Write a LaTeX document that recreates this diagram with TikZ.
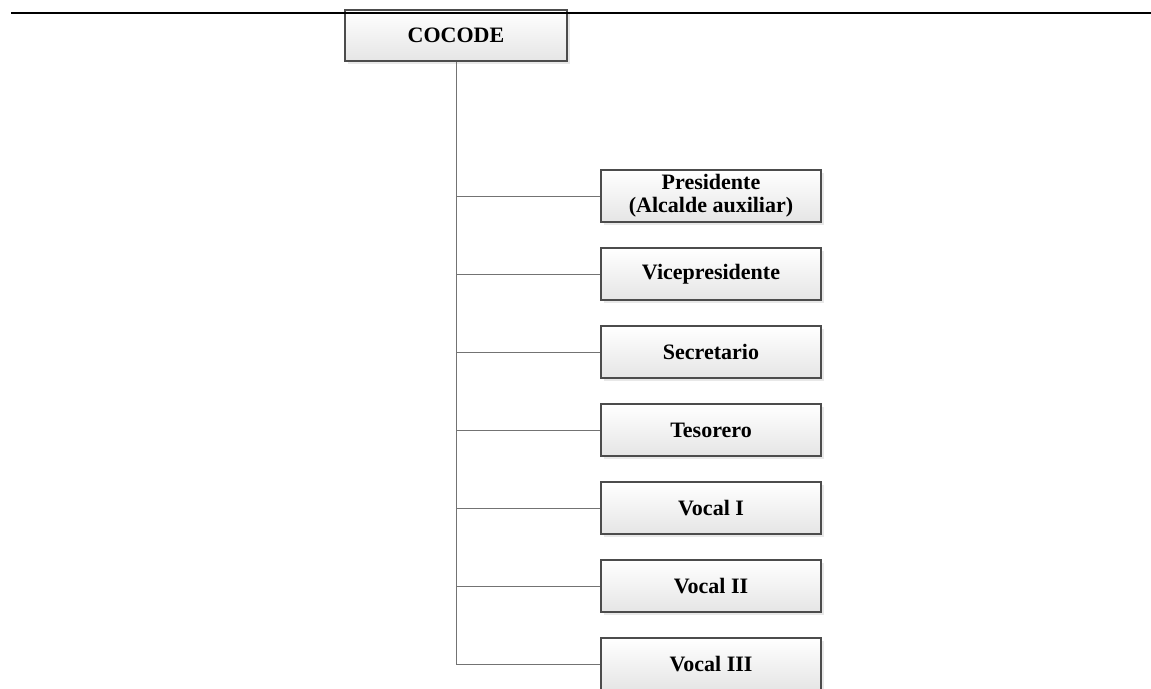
\documentclass[tikz,border=0pt]{standalone}
\usepackage{fontspec}
\setmainfont{Liberation Serif}
\usetikzlibrary{shadows}
\begin{document}
\begin{tikzpicture}[x=1pt,y=-1pt,
  orgbox/.style={draw=black!70, line width=1.2pt, top color=white, bottom color=black!10,
    minimum width=220pt, minimum height=52pt, inner sep=0pt, align=center,
    font=\fontsize{22}{23}\selectfont\bfseries,
    drop shadow={shadow xshift=3pt, shadow yshift=-3pt, fill=black!15, opacity=0.6}},
  link/.style={draw=black!55, line width=1pt}]
\useasboundingbox (0,0) rectangle (1151,688);
\node[orgbox, minimum width=222pt, minimum height=51pt] (root) at (456,35.5) {COCODE};
\draw[line width=2pt] (11,13) -- (1151,13);
\coordinate (t0) at (456,61);
\node[orgbox] (c1) at (711,196) {Presidente\\(Alcalde auxiliar)};
\node[orgbox] (c2) at (711,274) {Vicepresidente};
\node[orgbox] (c3) at (711,352) {Secretario};
\node[orgbox] (c4) at (711,430) {Tesorero};
\node[orgbox] (c5) at (711,508) {Vocal I};
\node[orgbox] (c6) at (711,586) {Vocal II};
\node[orgbox] (c7) at (711,664) {Vocal III};
\draw[link] (root.south) |- (c7.west);
\foreach \i in {1,...,6} {
  \draw[link] (root.south |- c\i.west) -- (c\i.west);
}
\end{tikzpicture}
\end{document}
